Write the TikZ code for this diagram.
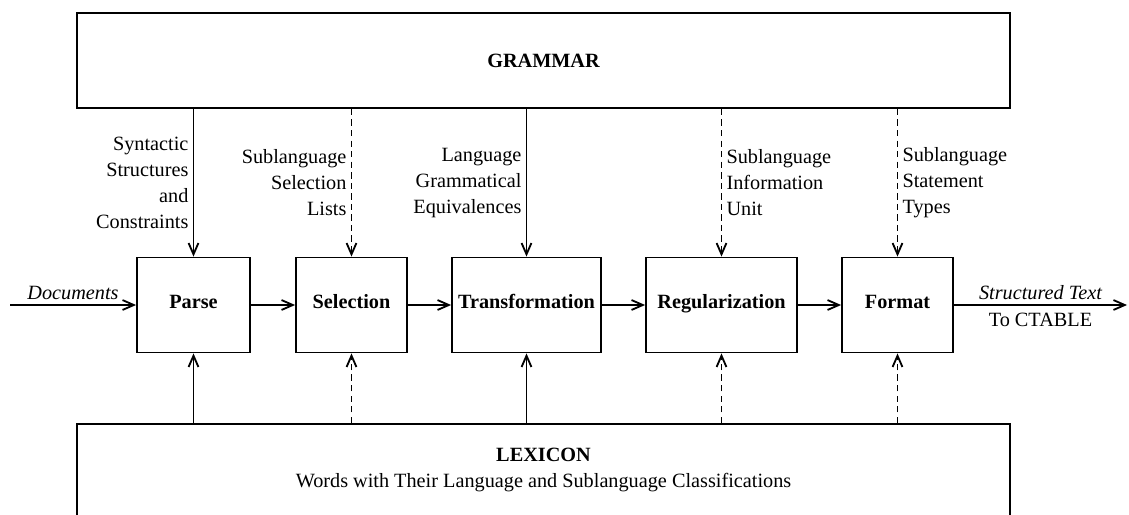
\documentclass[tikz,border=0pt]{standalone}
\usepackage{fontspec}
\setmainfont{Liberation Serif}
\usetikzlibrary{arrows.meta,positioning}
\newcommand{\figsize}{\fontsize{14.4}{18.4}\selectfont}

\begin{document}
\begin{tikzpicture}[x=0.025cm, y=-0.025cm,
  box/.style={draw, line width=1.3pt, inner sep=0pt},
  procbox/.style={box, minimum height=2.375cm, text height=1.6ex, text depth=.4ex, font=\figsize\bfseries},
  flow/.style={-{Straight Barb[length=8pt,width=7pt,line width=1.3pt]}, line width=1.2pt},
  feed/.style={flow, dash pattern=on 4.5pt off 3pt},
  lbl/.style={font=\figsize, inner sep=3pt},
  lblL/.style={lbl, anchor=east, align=right},
  lblR/.style={lbl, anchor=west, align=left}]
  \useasboundingbox (0,0) rectangle (1129,514);
  % knowledge sources
  \node[box, minimum width=23.325cm, minimum height=2.375cm, font=\figsize\bfseries] (grammar) at (543.5,60.5) {GRAMMAR};
  \node[box, minimum width=23.325cm, minimum height=3cm, anchor=north] (lexicon) at (543.5,423) {};
  \node[lbl, align=center, below=0.52cm of lexicon.north] (lextext) {\textbf{LEXICON}\\Words with Their Language and Sublanguage Classifications};
  % processing stages
  \foreach \nm/\x/\w/\txt in {parse/193.5/113/Parse, selection/351.5/111/Selection, transformation/526.5/149/Transformation, regularization/721.5/151/Regularization, format/897.5/111/Format}
    \node[procbox, minimum width={\w*0.025cm}] (\nm) at (\x,305) {\txt};
  \foreach \a/\b in {parse/selection, selection/transformation, transformation/regularization, regularization/format}
    \draw[flow] (\a) -- (\b);
  % grammar and lexicon inputs
  \foreach \nm/\sty/\ls/\txt in {parse/flow/lblL/{Syntactic\\Structures\\and\\Constraints}, selection/feed/lblL/{Sublanguage\\Selection\\Lists}, transformation/flow/lblL/{Language\\Grammatical\\Equivalences}, regularization/feed/lblR/{Sublanguage\\Information\\Unit}, format/feed/lblR/{Sublanguage\\Statement\\Types}} {
    \draw[\sty] (grammar.south -| \nm.north) -- node[\ls] {\txt} (\nm.north);
    \draw[\sty] (lexicon.north -| \nm.south) -- (\nm.south);
  }
  % input and output
  \coordinate (docin) at (10,305);
  \coordinate (ctable) at (1127,305);
  \draw[flow] (docin) -- node[lbl, above, font=\figsize\itshape] (docs) {Documents} (parse);
  \draw[flow] (format) -- node[lbl, above, font=\figsize\itshape] (sttext) {Structured Text}
    node[lbl, below, inner sep=5pt] (ctname) {To CTABLE} (ctable);
\end{tikzpicture}
\end{document}
